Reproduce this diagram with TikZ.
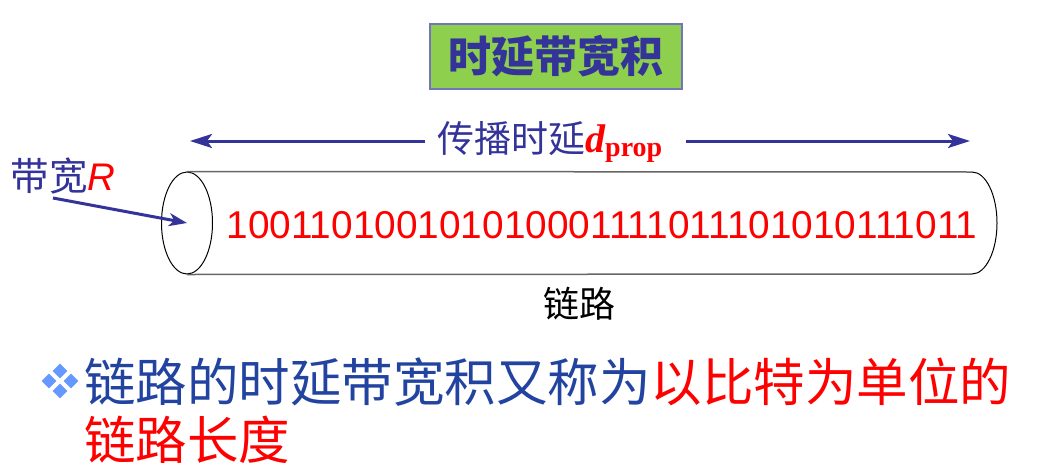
\documentclass[tikz,border=0pt]{standalone}
\usepackage{fontspec}
\setmainfont{Liberation Sans}
\newfontfamily\cjk{Noto Sans CJK SC}
\newfontfamily\timesrm{Liberation Serif}
\usetikzlibrary{shapes.geometric,arrows.meta}
\definecolor{titleblue}{HTML}{333399}
\definecolor{titlegreen}{HTML}{8FCF4E}
\definecolor{boxline}{HTML}{7474B8}
\definecolor{textblue}{HTML}{2244A0}
\definecolor{bulletblue}{HTML}{6699FF}
\definecolor{tubegray}{HTML}{666666}

\begin{document}
\begin{tikzpicture}[x=1pt,y=-1pt,
  arr/.style={titleblue, line width=3pt, -{Stealth[length=22pt,width=14pt,inset=5pt]}},
  bulletdia/.style={diamond, fill=bulletblue, minimum size=15pt}]
	\tikzstyle{every node}+=[inner sep=0pt]
	\useasboundingbox (0,0) rectangle (1062,474);
	% title
	\node [draw=boxline, line width=2pt, fill=titlegreen, minimum width=252pt, minimum height=65pt] (title) at (556,56)
	  {\fontsize{43}{43}\selectfont\cjk\bfseries\color{titleblue}时延带宽积};
	% propagation delay
	\node [anchor=base west, text=titleblue] (prop) at (437,152)
	  {\fontsize{37}{37}\selectfont\cjk 传播时延\textcolor{red}{\timesrm\bfseries\itshape\fontsize{40}{40}\selectfont d\textsubscript{\upshape prop}}};
	\coordinate (pl) at (190,141);
	\coordinate (pr) at (970,141);
	\draw [arr] ([xshift=-12pt]prop.west |- pl) -- (pl);
	\draw [arr] ([xshift=23pt]prop.east |- pr) -- (pr);
	% link tube
	\node [ellipse, draw, line width=1pt, minimum width=51pt, minimum height=102pt] (lend) at (187,223) {};
	\coordinate (rtop) at (972,172);
	\coordinate (rbot) at (972,274);
	\draw [tubegray, line width=1.5pt] (lend.north) -- (rtop);
	\draw [tubegray, line width=1.5pt] (lend.south) -- (rbot);
	\draw [line width=1pt] (rtop) arc [start angle=90, end angle=-90, x radius=25pt, y radius=51pt];
	\node [text=red] (bits) at (602,225)
	  {\fontsize{38.8}{38.8}\selectfont 100110100101010001111011101010111011};
	\node (link) at (579,304) {\fontsize{36}{36}\selectfont\cjk 链路};
	% bandwidth
	\node [text=titleblue] (bw) at (63,176)
	  {\fontsize{38.5}{38.5}\selectfont\cjk 带宽\textcolor{red}{\rmfamily\itshape R}};
	\coordinate (bws) at (53,198);
	\draw [arr, -{Stealth[length=18pt,width=13pt,inset=5pt]}] (bws) -- (lend.center);
	% bullet text
	\foreach \dx/\dy in {0/-10, -11/0, 11/0, 0/10}
	  \node [bulletdia] at (60+\dx,381+\dy) {};
	\node [anchor=west, text=textblue] (line1) at (84,382)
	  {\fontsize{51.5}{51.5}\selectfont\cjk 链路的时延带宽积又称为\textcolor{red}{以比特为单位的}};
	\node [anchor=west, text=red] (line2) at (84,440)
	  {\fontsize{51.5}{51.5}\selectfont\cjk 链路长度};
\end{tikzpicture}
\end{document}
